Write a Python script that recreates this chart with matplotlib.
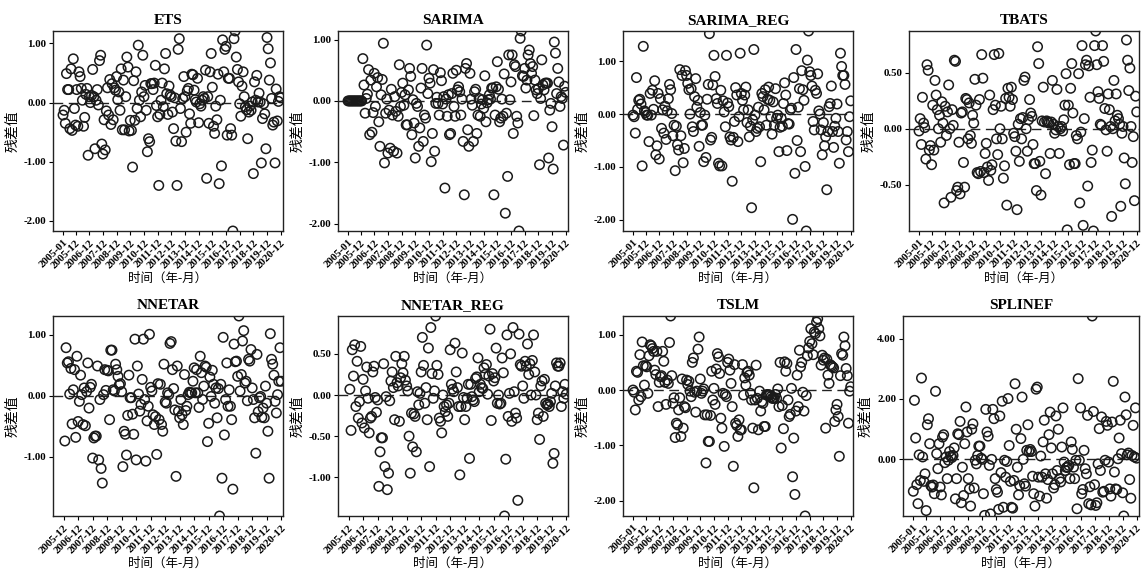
import numpy as np
import matplotlib
matplotlib.use("Agg")
import matplotlib.pyplot as plt
from matplotlib.ticker import MultipleLocator, FormatStrFormatter

plt.rcParams["font.family"] = ["Liberation Serif", "Noto Sans CJK SC"]

# tick labels (month positions counted from 2005-01)
tick_pos = [0, 11, 23, 35, 47, 59, 71, 83, 95, 107, 119, 131, 143, 155, 167, 179, 191]
tick_labels = ["2005-01", "2005-12", "2006-12", "2007-12", "2008-12", "2009-12",
               "2010-12", "2011-12", "2012-12", "2013-12", "2014-12", "2015-12",
               "2016-12", "2017-12", "2018-12", "2019-12", "2020-12"]

# residuals (2005-01 .. 2020-12)
ets_resid = [
    -0.21, -0.13, -0.35, 0.49, 0.22, 0.22, -0.44, 0.57, -0.47, 0.74,
    -0.10, -0.38, 0.22, -0.40, 0.52, 0.44, 0.24, 0.04, -0.40, -0.25,
    0.14, 0.24, -0.89, 0.10, 0.00, 0.12, 0.56, 0.10, -0.78, 0.04, 0.22,
    -0.04, 0.71, 0.80, -0.70, -0.87, -0.29, -0.80, -0.14, 0.25, -0.21,
    0.39, -0.37, 0.32, -0.29, 0.25, 0.21, 0.44, 0.05, 0.18, -0.13,
    0.57, -0.46, 0.38, -0.46, 0.10, 0.77, 0.60, -0.48, -0.30, -0.47,
    -1.09, 0.37, -0.30, 0.52, -0.10, 0.97, 0.04, -0.24, 0.18, 0.80,
    0.10, 0.29, -0.13, -0.83, -0.61, -0.66, 0.32, 0.32, 0.22, 0.33,
    0.63, -0.05, -0.24, -1.40, -0.20, 0.04, 0.33, -0.07, 0.57, 0.83,
    0.15, -0.20, 0.28, 0.13, 0.10, -0.16, -0.44, 0.08, -0.65, -1.40, 0.90,
    1.08, -0.10, -0.66, 0.07, 0.44, 0.10, -0.50, 0.20, 0.24, -0.19,
    -0.35, 0.48, 0.47, 0.21, 0.05, 0.01, 0.41, -0.34, -0.02, -0.06, 0.04,
    0.10, 0.07, 0.55, -1.28, 0.10, -0.35, 0.52, 0.83, 0.26, -0.40,
    -0.52, -0.06, -0.29, 0.48, -1.37, 0.04, -1.07, 1.06, 0.52, 0.90,
    0.95, -0.55, 0.41, 0.41, -0.44, -0.55, -2.17, 1.08, 1.21, 0.77,
    0.56, 0.35, -0.02, -0.23, 0.28, 0.52, 0.10, -0.07, -0.12, -0.61,
    -0.16, -0.06, -0.13, 0.01, -1.20, 0.35, 0.04, 0.46, 0.01, 0.16,
    0.01, -1.02, -0.27, -0.02, -0.19, -0.78, 1.10, 0.91, 0.38, 0.67,
    0.07, -0.38, -0.33, -1.02, 0.23, -0.31, 0.02, 0.10, 0.08,
]

sarima_resid = [
    0.00, 0.00, 0.00, 0.00, 0.00, 0.00, 0.00, 0.00, 0.00, 0.00, 0.00, 0.00, 0.00,
    0.69, 0.26, -0.20, 0.04, 0.11, 0.51, -0.55, 0.34, -0.51, -0.19,
    0.45, -0.09, 0.23, 0.38, -0.34, -0.74, 0.10, 0.35, 0.94, -1.01,
    -0.20, 0.03, -0.85, -0.15, -0.77, 0.19, -0.23, -0.82, 0.07, -0.17,
    -0.85, -0.25, 0.59, -0.09, 0.14, 0.29, -0.07, 0.10, -0.39, -0.39,
    0.18, 0.53, 0.40, -0.55, 0.02, -0.36, -0.93, -0.04, -0.09, -0.74,
    -0.44, 0.21, 0.53, -0.66, -0.23, -0.28, 0.91, 0.12, 0.37, 0.29,
    -0.99, -0.53, 0.51, -0.82, -0.04, 0.06, -0.04, -0.23, 0.46, 0.33, -0.05,
    0.07, -1.42, 0.03, -0.25, 0.10, -0.55, -0.53, 0.12, 0.45, -0.09,
    -0.25, 0.50, 0.18, 0.23, 0.15, -0.23, 0.03, -0.66, -1.53, 0.53,
    0.61, -0.47, -0.74, 0.45, 0.03, -0.07, -0.66, 0.15, 0.19, -0.53,
    -0.23, 0.04, -0.25, -0.05, 0.02, -0.12, 0.41, -0.34, -0.03, 0.02, 0.10,
    0.03, 0.21, 0.21, -1.53, -0.23, 0.23, 0.64, 0.19, -0.34, -0.28,
    0.03, -0.25, 0.44, -1.83, -0.20, -1.23, 0.75, 0.02, 0.31, 0.75,
    -0.53, 0.59, 0.56, -0.25, -0.36, -2.12, 1.02, 1.14, 0.41, 0.40,
    0.53, 0.21, 0.34, 0.75, 0.83, 0.61, 0.45, 0.56, -0.24, 0.34,
    0.18, 0.12, 0.20, -1.04, 0.04, 0.67, 0.26, 0.18, 0.29, 0.29, 0.29,
    -0.93, -0.15, -0.04, -0.42, -1.11, 0.96, 0.78, 0.12, 0.53, 0.31,
    -0.09, 0.07, 0.04, -0.72, 0.24, 0.14,
]

sarima_reg_resid = [
    -0.02, -0.05, -0.36, 0.69, 0.09, 0.26, 0.28, 0.19, -0.98, 1.28,
    0.06, 0.03, -0.02, -0.02, -0.52, 0.39, -0.02, 0.45, 0.09, 0.63, -0.77,
    -0.60, 0.39, -0.85, 0.29, -0.27, 0.08, -0.36, 0.15, -0.48, 0.06,
    0.29, 0.56, 0.46, 0.01, -0.41, -0.21, -1.07, -0.23, -0.58, -0.68,
    0.84, -0.41, 0.73, -0.92, -0.65, 0.82, 0.73, 0.58, 0.46, 0.00,
    0.48, -0.24, -0.33, 0.33, 0.67, 0.13, 0.26, -0.61, 0.03, -0.21,
    -0.21, -0.90, -0.02, -0.82, 0.28, 0.56, 1.52, -0.49, -0.44, 0.55,
    1.11, 0.71, 0.29, 0.20, -0.93, -0.98, 0.45, -0.98, 0.25, 0.04,
    -0.24, 1.11, 0.21, 0.14, -0.43, -0.49, -1.27, -0.44, -0.14, 0.50,
    0.36, -0.52, -0.05, 1.15, 0.39, 0.26, 0.08, 0.36, 0.51, -0.16,
    0.08, -0.43, -0.23, -1.77, -0.11, 1.22, -0.02, -0.33, -0.27, 0.13,
    -0.24, -0.90, 0.39, 0.33, 0.08, 0.46, -0.21, 0.28, 0.51, 0.26,
    -0.05, -0.38, 0.23, -0.21, 0.48, -0.08, -0.02, -0.71, -0.25, -0.08,
    -0.23, 0.20, 0.59, 0.36, -0.69, -0.18, -0.19, 0.08, 0.11, -1.99,
    0.69, -1.12, 1.22, -0.50, 0.13, 0.48, -0.71, 0.82, 0.46, 0.26,
    -0.99, -2.21, 1.02, 1.57, 0.80, 0.73, 0.53, -0.14, -0.30, 0.45,
    0.39, 0.76, 0.06, 0.00, -0.30, -0.77, -0.16, -0.60, -0.43, -1.43,
    -0.33, 0.14, 0.20, 0.53, -0.33, -0.63, -0.23, -0.08, 0.19, -0.33,
    -0.93, 1.15, 0.90, 0.73, 0.73, 0.56, -0.49, -0.33, -0.71, -0.05,
    0.25,
]

tbats_resid = [
    -0.02, 0.09, -0.14, 0.28, 0.05, 0.01, -0.27, 0.57, 0.52, -0.19,
    -0.15, -0.32, 0.21, -0.19, 0.43, 0.30, 0.17, 0.00, 0.12, -0.12,
    0.24, 0.05, -0.66, 0.20, -0.06, 0.15, 0.39, 0.00, -0.61, 0.17,
    0.03, 0.61, 0.60, -0.55, -0.52, -0.12, -0.58, 0.14, 0.15, -0.30,
    -0.52, 0.27, 0.26, -0.09, 0.23, -0.06, -0.13, 0.12, 0.05, 0.44,
    0.21, -0.39, -0.40, 0.26, -0.38, 0.66, 0.45, -0.39, -0.22, -0.13,
    -0.34, -0.46, 0.30, -0.37, -0.32, 0.17, 0.66, 0.21, -0.09, -0.23,
    0.67, 0.00, 0.20, -0.09, -0.44, -0.33, 0.27, -0.68, 0.36, 0.28,
    0.20, 0.37, 0.26, -0.04, -0.07, -0.20, -0.72, 0.04, -0.29, 0.09,
    -0.09, 0.10, 0.43, 0.46, 0.00, -0.20, 0.08, 0.26, 0.14, 0.11,
    -0.14, -0.31, -0.31, -0.55, 0.73, 0.58, -0.29, -0.59, 0.07, 0.37,
    0.06, -0.40, 0.07, 0.06, 0.05, -0.22, 0.06, 0.43, 0.04, -0.04, -0.01,
    0.35, 0.02, -0.22, 0.00, 0.02, -0.02, 0.08, 0.21, 0.49, -0.90,
    0.21, -0.32, 0.36, 0.58, 0.14, -0.31, -0.31, -0.06, -0.09, 0.49,
    -0.66, -0.03, 0.74, -0.86, 0.09, 0.57, 0.61, -0.51, 0.56, 0.28,
    -0.30, -0.19, -0.91, 0.74, 0.87, 0.57, 0.33, 0.27, 0.04, 0.03,
    0.74, 0.60, 0.18, -0.01, -0.20, 0.31, 0.17, 0.02, -0.78, 0.00,
    0.43, 0.07, 0.31, 0.12, 0.09, 0.04, -0.69, -0.04, 0.02, -0.26,
    -0.49, 0.79, 0.61, 0.34, 0.54, 0.02, -0.30, -0.07, -0.64, 0.29,
    0.15,
]

# neural-net models start one year later (2006-01 .. 2020-12)
nnetar_resid = [
    -0.74, 0.79, 0.54, 0.56, 0.03, 0.45, -0.46, 0.10, 0.43, -0.68,
    0.65, -0.42, -0.09, 0.34, 0.02, -0.47, 0.13, -0.49, 0.07, 0.54,
    -0.20, 0.14, 0.19, -1.02, -0.69, -0.66, -0.66, 0.49, -1.05, -0.06,
    -1.19, -1.43, 0.02, 0.43, 0.09, 0.42, 0.41, -0.39, 0.75, 0.75,
    0.10, 0.08, 0.52, 0.43, 0.32, 0.18, 0.20, 0.07, -1.16, -0.58,
    -0.63, -0.97, -0.32, 0.34, -0.03, -0.03, -0.30, -0.63, 0.93, -1.05,
    0.49, 0.03, -0.25, -0.14, 0.27, 0.93, -0.06, -1.07, -0.41, -0.17,
    1.01, 0.14, 0.08, -0.31, -0.47, -0.34, -0.96, 0.20, -0.39, 0.19,
    -0.47, -0.58, 0.52, -0.10, -0.12, 0.05, 0.02, 0.86, 0.89, 0.43,
    0.12, -0.23, -1.32, 0.49, -0.25, -0.36, -0.06, -0.31, -0.47, 0.35,
    -0.24, -0.17, 0.02, 0.06, 0.05, 0.05, 0.24, 0.46, 0.05, 0.43, 0.05,
    -0.19, 0.65, 0.38, -0.06, 0.16, 0.49, 0.47, -0.75, -0.45, 0.31,
    -0.01, 0.42, 0.19, -0.12, 0.13, -0.36, 0.12, -1.97, 0.19, -1.35,
    0.96, -0.64, -0.06, 0.54, -0.17, 0.10, -0.17, -0.39, -1.53, 0.85,
    0.56, 0.57, 0.32, 1.31, 0.08, 0.35, 0.90, 1.07, 0.21, 0.24,
    -0.08, 0.60, 0.57, 0.76, 0.13, -0.06, -0.36, -0.94, 0.68, -0.26,
    -0.03, -0.01, -0.35, -0.20, -0.36, 0.16, -0.12, -0.58, -1.35, 1.02,
    0.60, 0.52, 0.34, -0.09, -0.28, 0.02, 0.24, 0.79, 0.24,
]

nnetar_reg_resid = [
    0.07, -0.43, 0.55, 0.23, 0.61, -0.14, 0.41, -0.28, -0.08, 0.59,
    -0.34, 0.19, -0.40, 0.05, 0.34, -0.04, -0.46, -0.28, -0.26, 0.28,
    0.35, -0.03, -0.21, -0.06, -1.11, -0.69, -0.52, -0.52, 0.38, -0.87,
    -0.02, -1.15, -0.95, -0.07, 0.17, 0.28, 0.09, -0.30, 0.47, 0.15,
    0.11, -0.32, 0.21, 0.38, 0.27, 0.47, 0.18, 0.11, 0.05, -0.50, -0.95,
    -0.22, -0.63, -0.23, -0.26, -0.69, 0.04, -0.12, 0.02, 0.28, 0.70,
    0.36, -0.10, 0.09, -0.30, 0.57, -0.87, 0.82, 0.26, -0.04, 0.05,
    0.96, 0.36, 0.25, -0.28, -0.32, -0.46, 0.00, -0.14, -0.20, -0.12,
    -0.26, -0.10, 0.55, 0.13, 0.07, 0.04, 0.63, 0.28, 0.09, -0.14,
    -0.97, -0.14, 0.51, -0.03, -0.30, -0.14, -0.04, 0.13, -0.77, 0.13,
    -0.02, -0.06, -0.08, 0.20, 0.22, 0.45, 0.04, 0.13, 0.09, 0.08,
    0.33, 0.25, 0.37, 0.01, 0.23, 0.80, -0.31, 0.26, 0.17, 0.21,
    0.57, -0.10, 0.00, -0.11, -0.10, 0.45, 0.27, -1.47, -0.78, 0.73,
    -0.26, 0.02, 0.50, -0.32, 0.82, 0.04, -0.22, -0.28, -1.28, 0.74,
    0.37, 0.35, 0.11, -0.04, 0.41, 0.35, 0.62, 0.25, 0.38, 0.00,
    0.42, 0.73, 0.28, 0.00, -0.30, -0.22, -0.54, 0.11, 0.17, -0.26,
    0.19, -0.10, -0.12, -0.11, -0.14, -0.08, 0.02, -0.83, -0.71, 0.11, 0.39,
    0.35, 0.35, 0.39, -0.14, 0.04, -0.04, 0.13, 0.01,
]

tslm_resid = [
    0.00, -0.04, -0.36, 0.34, 0.32, -0.18, 0.64, -0.12, 0.87, 0.44,
    0.09, 0.44, 0.42, -0.06, 0.62, 0.82, 0.80, 0.75, 0.70, 0.36, 0.28,
    0.70, -0.30, 0.14, 0.24, 0.26, 0.70, 0.52, 0.14, -0.26, 0.18, 0.12,
    0.86, 1.34, 0.26, -0.24, -0.14, -0.86, -0.60, -0.63, -0.36, -0.14,
    -0.84, 0.20, -0.69, -0.30, -0.32, 0.18, 0.10, 0.16, -0.02, -0.12, 0.50, 0.58,
    -0.04, -0.40, -0.02, 0.74, 0.96, 0.20, -0.06, -0.02, 0.02, -0.45, -1.32,
    -0.45, -0.93, -0.93, -0.46, 0.34, -0.18, 0.03, -0.26, 0.38, 0.66, 0.60,
    0.30, -0.51, -0.69, -0.06, -1.02, -0.08, -0.12, 0.50, 0.56, 0.36,
    0.12, -0.30, -1.38, 0.46, -0.60, -0.64, -0.84, -0.54, -0.72, -0.72, 0.46,
    -0.09, 0.22, 0.09, 0.32, 0.34, 0.27, -0.06, -0.18, -0.69, -1.77, -0.18,
    0.45, -0.15, -0.72, -0.02, -0.38, -0.21, -0.24, -0.66, -0.66, -0.09,
    -0.08, -0.09, -0.09, -0.12, -0.15, -0.15, -0.15, -0.08, -0.15, 0.02, -0.30,
    0.50, -1.05, -0.28, -0.70, 0.51, 0.34, 0.48, -0.18, -0.48, -0.44, 0.03,
    -1.57, -0.87, -1.89, -0.38, 0.27, -0.30, 0.72, 0.42, 0.50, -0.04,
    -0.38, -2.28, -0.10, 0.62, 0.76, 0.88, 1.11, 0.84, 0.64, 1.05, 1.02,
    1.23, 1.29, 1.11, 0.98, 0.45, 0.63, 0.54, 0.58, -0.69, 0.56,
    0.27, 0.12, 0.46, 0.44, 0.42, 0.40, -0.57, -0.36, -0.26, -0.48, -1.20,
    0.26, 0.66, 0.63, 0.96, 0.80, 0.39, 0.26, -0.60, -0.02, 0.06,
]

splinef_resid = [
    -1.07, 1.95, 0.70, -0.85, -1.48, 0.14, -0.71, 2.69, 0.07, -0.74,
    -0.49, -1.71, 1.14, 1.34, 0.51, -0.88, -0.93, -0.86, -1.15, 2.25, 0.18,
    -0.32, 0.51, -0.93, -1.19, 0.73, 0.81, -0.12, 0.07, -0.65, -0.04,
    0.25, 0.10, 0.05, 0.12, 0.37, -1.32, -0.65, 0.84, 0.81, 1.25, -1.45,
    -0.27, -1.21, 0.51, 1.73, 0.90, -0.65, -0.99, -1.56, 0.99, 1.17,
    -0.96, -0.04, -0.16, 0.12, 0.43, 0.43, 0.03, -0.01, -1.15, -1.87,
    1.65, 0.90, 0.76, -0.21, -1.82, -0.01, 1.65, 1.34, -0.65, -1.01, -1.10,
    -1.67, 1.43, -0.45, 1.92, -1.60, -0.04, -0.60, -0.08, 2.01, 0.45,
    -0.74, -1.60, -1.63, -0.71, 2.50, 0.99, -0.27, -1.19, -0.88, 0.68,
    2.06, -0.01, -0.82, -0.90, 0.29, 1.14, 0.25, 0.32, 0.25, -0.57, -1.15,
    -1.56, 2.32, 2.39, -0.60, -1.23, 0.10, -0.60, 0.57, 1.29, -0.49,
    -1.30, -0.68, 0.81, 1.56, 0.37, -0.49, -0.96, -0.85, 1.43, -0.38,
    0.99, -0.65, -0.76, 0.40, 1.70, -0.10, -0.38, -0.28, -0.27, -0.21, -0.65,
    0.57, 0.32, -0.27, -0.65, -0.04, -1.65, 2.67, -0.04, 1.70, -1.15,
    -1.01, 0.29, -0.32, -0.49, 1.45, -1.48, -0.92, -1.52, 4.75, 1.58,
    -0.85, -1.54, -1.45, -0.16, 1.01, -0.38, 1.40, -1.10, -1.07, -0.04, 1.25,
    1.12, -0.10, -0.99, -1.23, 1.23, 2.58, -0.43, -0.99, -1.01, 0.01,
    0.70, 1.29, 0.18, -1.12, -1.89, 2.06, 1.47, 0.14, 0.20, -0.68, -1.30,
    0.12, 1.12, 0.07, 1.70, 0.03,
]

panels = [
    ("ETS", ets_resid, 0, 1.0),
    ("SARIMA", sarima_resid, 0, 1.0),
    ("SARIMA_REG", sarima_reg_resid, 0, 1.0),
    ("TBATS", tbats_resid, 0, 0.5),
    ("NNETAR", nnetar_resid, 12, 1.0),
    ("NNETAR_REG", nnetar_reg_resid, 12, 0.5),
    ("TSLM", tslm_resid, 0, 1.0),
    ("SPLINEF", splinef_resid, 0, 2.0),
]

# axes boxes in pixels (left, top, width)
boxes = [(53, 31, 230), (338, 31, 230), (623, 31, 230), (909, 31, 230),
         (53, 316, 230), (338, 316, 230), (623, 316, 230), (903, 316, 236)]

W, H = 1147, 572
fig = plt.figure(figsize=(W / 100, H / 100), dpi=100)

for (name, resid, start, step), (left, top, width) in zip(panels, boxes):
    ax = fig.add_axes([left / W, 1 - (top + 200) / H, width / W, 200 / H])
    y = np.array(resid)
    x = np.arange(start, start + len(y))

    ax.axhline(0, color="#222222", lw=1.0, ls=(0, (7, 4)), zorder=1)
    ax.scatter(x, y, s=46, facecolors="none", edgecolors="#1a1a1a",
               linewidths=1.1, zorder=2)

    if start == 0:
        ax.set_xlim(-8.8, 193)
        pos, labs = tick_pos, tick_labels
    else:
        ax.set_xlim(2.2, 192.5)
        pos, labs = tick_pos[1:], tick_labels[1:]
    ax.set_xticks(pos)
    ax.set_xticklabels(labs, rotation=45, ha="right", rotation_mode="anchor",
                       fontsize=7.8, fontweight="bold")
    ax.set_ylim(y.min(), y.max())
    ax.yaxis.set_major_locator(MultipleLocator(step))
    ax.yaxis.set_major_formatter(FormatStrFormatter("%.2f"))
    ax.tick_params(direction="out", length=3, width=0.8, labelsize=7.8, pad=2)
    for lab in ax.get_yticklabels():
        lab.set_fontweight("bold")

    for sp in ax.spines.values():
        sp.set_linewidth(1.0)
        sp.set_color("#222222")

    ax.set_title(name, fontsize=11, fontweight="bold", pad=5)
    ax.set_ylabel("残差值", fontsize=10, labelpad=3)
    ax.set_xlabel("时间（年-月）", fontsize=9, labelpad=2)

fig.savefig("out.png", dpi=100)
